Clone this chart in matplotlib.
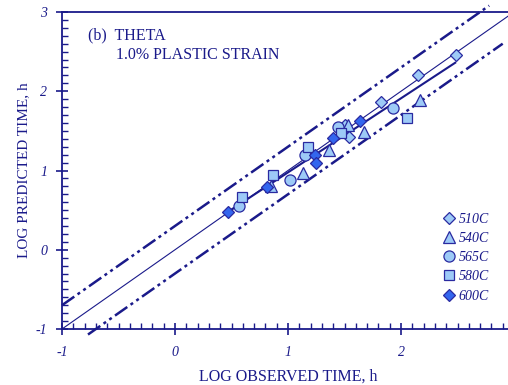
import matplotlib
matplotlib.use("Agg")
import matplotlib.pyplot as plt
from matplotlib.ticker import MultipleLocator

plt.rcParams["axes.unicode_minus"] = False

# observed / predicted log times, per temperature
x510 = [1.50, 1.54, 1.82, 2.15, 2.49]
y510 = [1.58, 1.42, 1.87, 2.20, 2.46]
x540 = [0.85, 1.13, 1.36, 1.53, 1.67, 2.17]
y540 = [0.80, 0.97, 1.26, 1.58, 1.49, 1.89]
x565 = [0.57, 1.02, 1.15, 1.44, 1.93]
y565 = [0.55, 0.88, 1.20, 1.55, 1.79]
x580 = [0.59, 0.87, 1.18, 1.47, 2.05]
y580 = [0.67, 0.94, 1.30, 1.47, 1.66]
x600 = [0.47, 0.81, 1.24, 1.25, 1.40, 1.64]
y600 = [0.48, 0.79, 1.20, 1.09, 1.41, 1.62]

fit_x = [0.47, 2.48]
fit_y = [0.48, 2.36]
band = 0.3

navy = "#1a1a8a"
light = "#9dcaf7"
dark = "#3366ee"
edge = "#2a2aa0"
serif = "Liberation Serif"

fig = plt.figure(figsize=(5.08, 3.85), dpi=100)
ax = fig.add_axes([62 / 508, 56 / 385, 452 / 508, 317 / 385])

ax.plot([-1, 3], [-1, 3], color=navy, lw=0.8, zorder=2)
ax.plot(fit_x, fit_y, color=navy, lw=1.5, zorder=2)
dd = (6, 1.6, 1.2, 1.6, 1.2, 1.6)
ax.plot([-1, 2.78], [-1 + band, 2.78 + band], color=navy, lw=1.8,
        dashes=dd, clip_on=False, zorder=2)
ax.plot([-0.77, 2.9], [-0.77 - band, 2.9 - band], color=navy, lw=1.8,
        dashes=dd, clip_on=False, zorder=2)

kw = dict(ls="none", mec=edge, mew=0.9, zorder=3)
ax.plot(x510, y510, marker="D", ms=6, mfc=light, label="510C", **kw)
ax.plot(x540, y540, marker="^", ms=8.5, mfc=light, label="540C", **kw)
ax.plot(x565, y565, marker="o", ms=8, mfc=light, label="565C", **kw)
ax.plot(x580, y580, marker="s", ms=7.5, mfc=light, label="580C", **kw)
ax.plot(x600, y600, marker="D", ms=6, mfc=dark, label="600C", **kw)

ax.set_xlim(-1, 3)
ax.set_ylim(-1, 3)
ax.set_xticks([-1, 0, 1, 2])
ax.xaxis.set_minor_locator(MultipleLocator(0.1))
ax.yaxis.set_major_locator(MultipleLocator(1))
ax.yaxis.set_minor_locator(MultipleLocator(0.1))

for s in ax.spines.values():
    s.set_color(navy)
    s.set_linewidth(1.3)
ax.spines["right"].set_visible(False)

ax.tick_params(which="major", direction="inout", length=9, width=1.2,
               color=navy, labelcolor=navy, labelsize=10)
ax.tick_params(which="minor", direction="in", length=4, width=1, color=navy)
ax.tick_params(axis="x", which="major", pad=8)
ax.tick_params(axis="y", which="major", pad=6)
for lab in ax.get_xticklabels() + ax.get_yticklabels():
    lab.set_family(serif)
    lab.set_style("italic")

ax.set_xlabel("LOG OBSERVED TIME, h", family=serif, fontsize=11.5,
              color=navy, labelpad=7)
ax.set_ylabel("LOG PREDICTED TIME, h", family=serif, fontsize=11,
              color=navy, labelpad=4)

ax.text(0.058, 0.925, "(b)  THETA", transform=ax.transAxes, family=serif,
        fontsize=11.5, color=navy, va="center")
ax.text(0.12, 0.865, "1.0% PLASTIC STRAIN", transform=ax.transAxes,
        family=serif, fontsize=11.5, color=navy, va="center")

leg = ax.legend(loc="upper left", bbox_to_anchor=(0.835, 0.385), frameon=False,
                handlelength=0.6, handletextpad=0.4, labelspacing=0.45,
                borderaxespad=0, prop=dict(family=serif, style="italic", size=10))
for t in leg.get_texts():
    t.set_color(navy)

fig.savefig("out.png", dpi=100)
